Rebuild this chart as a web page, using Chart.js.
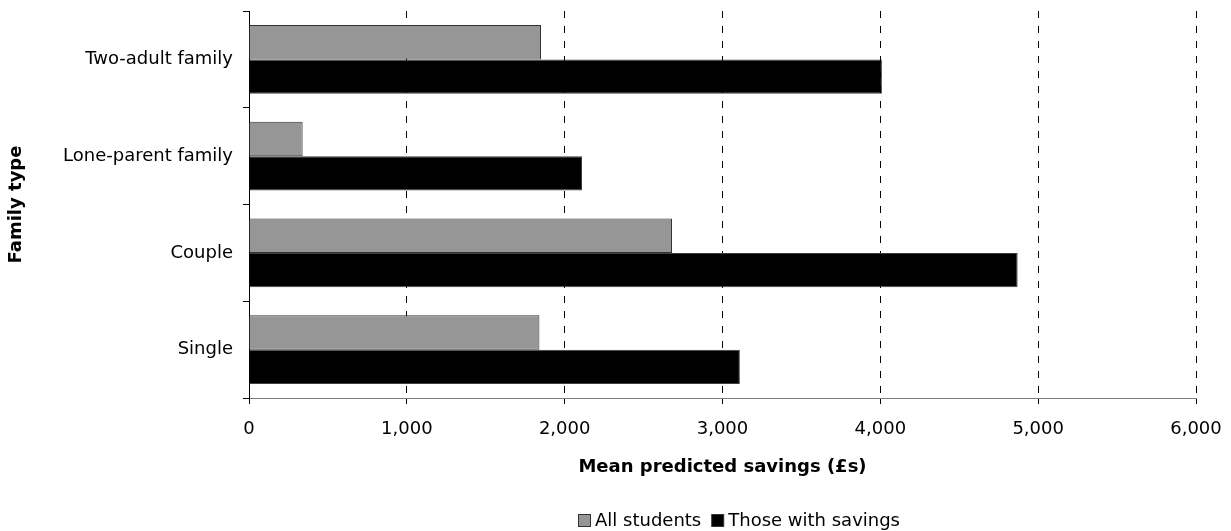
<!DOCTYPE html>
<html>
<head>
<meta charset="utf-8">
<script src="https://cdn.jsdelivr.net/npm/chart.js@4/dist/chart.umd.min.js"></script>
<style>
  html, body { margin: 0; padding: 0; background: #ffffff; }
  #wrap { width: 1231px; height: 531px; position: relative; }
</style>
</head>
<body>
<div id="wrap"><canvas id="chart" width="1231" height="531"></canvas></div>
<script>
// Family types, listed top to bottom
const categories = ['Two-adult family', 'Lone-parent family', 'Couple', 'Single'];
// Mean predicted savings (£s)
const allStudents = [1850, 340, 2680, 1840];
const withSavings = [4010, 2110, 4870, 3110];
const seriesNames = ['All students', 'Those with savings'];
const xTicks = [0, 1000, 2000, 3000, 4000, 5000, 6000];

const FONT = '"DejaVu Sans", Verdana, sans-serif';
const SIZE = 18;

// Legend drawn beneath the axis title, centred a little right of the plot centre
const bottomLegend = {
  id: 'bottomLegend',
  afterDraw(chart) {
    const ctx = chart.ctx;
    const ds = chart.data.datasets;
    ctx.save();
    ctx.font = SIZE + 'px ' + FONT;
    ctx.textBaseline = 'middle';
    const box = 12, gapBox = 5, gapItem = 10;
    const widths = ds.map(d => box + gapBox + ctx.measureText(d.label).width);
    const total = widths.reduce((a, b) => a + b, 0) + gapItem * (ds.length - 1);
    const cx = (chart.chartArea.left + chart.chartArea.right) / 2 + 16;
    let x = Math.round(cx - total / 2);
    const y = 520;
    ds.forEach((d, i) => {
      ctx.fillStyle = d.backgroundColor;
      ctx.fillRect(x + 0.5, y - box / 2 + 0.5, box, box);
      ctx.strokeStyle = '#333333';
      ctx.lineWidth = 1;
      ctx.strokeRect(x + 0.5, y - box / 2 + 0.5, box, box);
      ctx.fillStyle = '#000000';
      ctx.fillText(d.label, x + box + gapBox, y + 1);
      x += widths[i] + gapItem;
    });
    ctx.restore();
  }
};

// Scales should not reserve extra room for overhanging labels
function noOverhang(scale) {
  scale.paddingTop = 0;
  scale.paddingBottom = 0;
  scale.paddingLeft = 0;
  scale.paddingRight = 0;
}

new Chart(document.getElementById('chart'), {
  type: 'bar',
  data: {
    labels: categories,
    datasets: [
      {
        label: seriesNames[0],
        data: allStudents,
        backgroundColor: '#969696',
        borderColor: '#333333',
        borderWidth: 1,
        borderSkipped: 'start'
      },
      {
        label: seriesNames[1],
        data: withSavings,
        backgroundColor: '#000000',
        borderColor: '#404040',
        borderWidth: 1,
        borderSkipped: 'start'
      }
    ]
  },
  options: {
    indexAxis: 'y',
    responsive: false,
    animation: false,
    devicePixelRatio: 1,
    layout: { padding: { top: 11, right: 35, left: 0, bottom: 0 } },
    plugins: {
      legend: { display: false },
      tooltip: { enabled: false }
    },
    datasets: {
      bar: { categoryPercentage: 0.71, barPercentage: 1.0 }
    },
    scales: {
      x: {
        type: 'linear',
        min: 0,
        max: 6000,
        afterBuildTicks(scale) {
          scale.ticks = xTicks.map(v => ({ value: v }));
        },
        afterFit(scale) { scale.height = 133; noOverhang(scale); },
        ticks: {
          color: '#000000',
          font: { family: FONT, size: SIZE },
          padding: 15,
          maxRotation: 0,
          callback: v => Number(v).toLocaleString('en-GB')
        },
        grid: {
          color: '#000000',
          lineWidth: 1,
          drawTicks: true,
          tickLength: 6,
          tickBorderDash: [],
          tickColor: '#000000'
        },
        border: { display: true, color: '#808080', width: 1, dash: [7, 8] },
        title: {
          display: true,
          text: 'Mean predicted savings (£s)',
          color: '#000000',
          font: { family: FONT, size: SIZE, weight: 'bold' },
          padding: { top: 0, bottom: 53 }
        }
      },
      y: {
        type: 'category',
        offset: true,
        afterFit(scale) { scale.width = 249; noOverhang(scale); },
        ticks: {
          color: '#000000',
          font: { family: FONT, size: SIZE },
          padding: 10
        },
        grid: {
          offset: true,
          drawOnChartArea: false,
          drawTicks: true,
          tickLength: 6,
          color: '#000000'
        },
        border: { display: true, color: '#000000', width: 1 },
        title: {
          display: true,
          text: 'Family type',
          color: '#000000',
          font: { family: FONT, size: SIZE, weight: 'bold' },
          padding: { top: 6, bottom: 0 }
        }
      }
    }
  },
  plugins: [bottomLegend]
});
</script>
</body>
</html>
